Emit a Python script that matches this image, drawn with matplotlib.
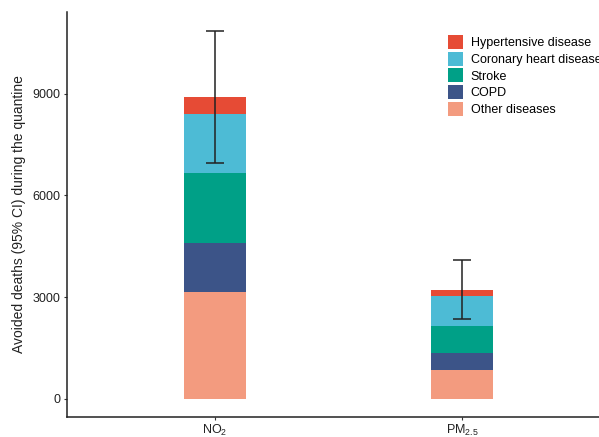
import numpy as np
import matplotlib
matplotlib.use('Agg')
import matplotlib.pyplot as plt
from matplotlib.patches import Patch

plt.rcParams['font.family'] = ['Liberation Sans', 'DejaVu Sans']
plt.rcParams['mathtext.fontset'] = 'custom'
plt.rcParams['mathtext.rm'] = 'Liberation Sans'
plt.rcParams['mathtext.it'] = 'Liberation Sans:italic'
plt.rcParams['mathtext.bf'] = 'Liberation Sans:bold'

pollutants = [r'NO$_2$', r'PM$_{2.5}$']
causes = ['Other diseases', 'COPD', 'Stroke', 'Coronary heart disease', 'Hypertensive disease']
colors = ['#F39B7F', '#3C5488', '#00A087', '#4DBBD5', '#E64B35']
other = [3150, 855]
copd = [1435, 490]
stroke = [2090, 805]
coronary = [1740, 865]
hypertensive = [490, 195]
ci_low = [6950, 2345]
ci_high = [10870, 4090]

fig = plt.figure(figsize=(5.99, 4.37), dpi=100)
ax = fig.add_axes([67/599, 20/437, 543/599, 405/437])

x = np.arange(1, len(pollutants) + 1)
bottom = np.zeros(len(pollutants))
for vals, c, lab in zip([other, copd, stroke, coronary, hypertensive], colors, causes):
    ax.bar(x, vals, width=0.25, bottom=bottom, color=c, label=lab, linewidth=0)
    bottom += np.array(vals)

mid = (np.array(ci_low) + np.array(ci_high)) / 2
half = (np.array(ci_high) - np.array(ci_low)) / 2
ax.errorbar(x, mid, yerr=half, fmt='none', ecolor='#222222', elinewidth=1.1,
            capsize=6.5, capthick=1.1)

ax.set_xlim(0.4, 2.6)
ax.set_ylim(-544, 11417)
ax.set_xticks(x)
ax.set_xticklabels(pollutants, fontsize=9, color='#222222')
ax.set_yticks([0, 3000, 6000, 9000])
ax.tick_params(axis='y', labelsize=9, length=2.5, pad=2.5, color='#333333', labelcolor='#222222')
ax.tick_params(axis='x', length=2.5, pad=1.5, color='#333333')
for s in ['top', 'right']:
    ax.spines[s].set_visible(False)
for s in ['left', 'bottom']:
    ax.spines[s].set_linewidth(1.1)
    ax.spines[s].set_color('#222222')
ax.set_ylabel('Avoided deaths (95% CI) during the quantine', fontsize=10, color='#222222', labelpad=4)

handles = [Patch(facecolor=c, label=l) for c, l in zip(colors, causes)][::-1]
fig.legend(handles=handles, loc='upper left', bbox_to_anchor=(447.7/599, 1 - 35/437),
           frameon=False, fontsize=9, handlelength=1.2, handleheight=1.35,
           labelspacing=0.2, handletextpad=0.65, borderpad=0, borderaxespad=0)

fig.savefig('out.png', dpi=100)
